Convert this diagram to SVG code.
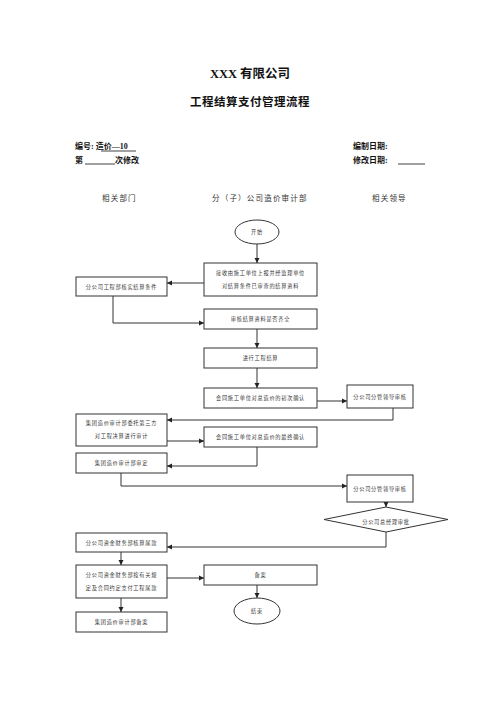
<svg xmlns="http://www.w3.org/2000/svg" width="500" height="707" viewBox="0 0 500 707">
<defs>
<marker id="ah" markerWidth="6" markerHeight="6" refX="5" refY="3" orient="auto" markerUnits="userSpaceOnUse">
<path d="M0,0.5 L5,3 L0,5.5 Z" fill="#222"/>
</marker>
<style>
.hd{font-family:"Liberation Serif","Noto Sans CJK SC",serif;font-weight:bold;fill:#111}
.col{font-family:"Noto Sans CJK SC","Liberation Sans",sans-serif;font-size:7.5px;fill:#333;letter-spacing:1.2px}
.bx{fill:#fff;stroke:#333;stroke-width:1}
.t{font-family:"Noto Sans CJK SC","Liberation Sans",sans-serif;font-size:5.2px;fill:#333;letter-spacing:0.75px;text-anchor:middle}
.ln{fill:none;stroke:#333;stroke-width:1;marker-end:url(#ah)}
.ul{stroke:#111;stroke-width:0.8}
</style>
</defs>
<rect width="500" height="707" fill="#fff"/>

<g id="header">
<text class="hd" x="250" y="78" font-size="12.5" text-anchor="middle">XXX 有限公司</text>
<text class="hd" x="250" y="106" font-size="11.5" text-anchor="middle" letter-spacing="0.5">工程结算支付管理流程</text>
<text class="hd" x="75" y="149" font-size="8">编号: 造价—10</text>
<line class="ul" x1="101" y1="151" x2="136" y2="151"/>
<text class="hd" x="75" y="163" font-size="8">第</text>
<line class="ul" x1="85" y1="164" x2="115" y2="164"/>
<text class="hd" x="115" y="163" font-size="8">次修改</text>
<text class="hd" x="353" y="149" font-size="8">编制日期:</text>
<text class="hd" x="353" y="163" font-size="8">修改日期:</text>
<line class="ul" x1="398" y1="164" x2="425" y2="164"/>
</g>

<g id="columns">
<text class="col" x="102" y="201">相关部门</text>
<text class="col" x="212" y="201">分（子）公司造价审计部</text>
<text class="col" x="372" y="201">相关领导</text>
</g>

<g id="connectors">
<path class="ln" d="M257,244 V263"/>
<path class="ln" d="M204,283 H167"/>
<path class="ln" d="M113,296 V323 H204"/>
<path class="ln" d="M257,329 V348"/>
<path class="ln" d="M257,368 V388"/>
<path class="ln" d="M317,401 H347"/>
<path class="ln" d="M393,408 V420 H167"/>
<path class="ln" d="M167,441 H204"/>
<path class="ln" d="M257,447 V466 H167"/>
<path class="ln" d="M121,473 V486 H347"/>
<path class="ln" d="M386,502 V507"/>
<path class="ln" d="M386,532 V547 H167"/>
<path class="ln" d="M121,552 V565"/>
<path class="ln" d="M167,578 H204"/>
<path class="ln" d="M257,585 V598"/>
<path class="ln" d="M121,598 V612"/>
</g>

<g id="start">
<ellipse class="bx" cx="257" cy="232" rx="22" ry="12"/>
<text class="t" x="257" y="234">开始</text>
</g>
<g id="n1">
<rect class="bx" x="204" y="263" width="113" height="33"/>
<text class="t" x="260.5" y="275">接收由施工单位上报并经监理单位</text>
<text class="t" x="260.5" y="288">对结算条件已审查的结算资料</text>
</g>
<g id="n2">
<rect class="bx" x="76" y="277" width="91" height="19"/>
<text class="t" x="121.5" y="288.5">分公司工程部核实结算条件</text>
</g>
<g id="n3">
<rect class="bx" x="204" y="309" width="113" height="20"/>
<text class="t" x="260.5" y="321">审核结算资料是否齐全</text>
</g>
<g id="n4">
<rect class="bx" x="204" y="348" width="113" height="20"/>
<text class="t" x="260.5" y="360">进行工程结算</text>
</g>
<g id="n5">
<rect class="bx" x="204" y="388" width="113" height="20"/>
<text class="t" x="260.5" y="400">会同施工单位对总造价的初次确认</text>
</g>
<g id="n6">
<rect class="bx" x="347" y="385" width="66" height="23"/>
<text class="t" x="380" y="398.5">分公司分管领导审核</text>
</g>
<g id="n7">
<rect class="bx" x="76" y="414" width="91" height="32"/>
<text class="t" x="121.5" y="425">集团造价审计部委托第三方</text>
<text class="t" x="121.5" y="438">对工程决算进行审计</text>
</g>
<g id="n8">
<rect class="bx" x="204" y="427" width="113" height="20"/>
<text class="t" x="260.5" y="439">会同施工单位对总造价的最终确认</text>
</g>
<g id="n9">
<rect class="bx" x="76" y="453" width="91" height="20"/>
<text class="t" x="121.5" y="465">集团造价审计部审定</text>
</g>
<g id="n10">
<rect class="bx" x="347" y="475" width="66" height="27"/>
<text class="t" x="380" y="490.5">分公司分管领导审核</text>
</g>
<g id="n11">
<polygon class="bx" points="386,507 448,519.5 386,532 324,519.5"/>
<text class="t" x="386" y="524" font-size="4.8" letter-spacing="0.6">分公司总经理审批</text>
</g>
<g id="n12">
<rect class="bx" x="76" y="533" width="91" height="19"/>
<text class="t" x="121.5" y="544.5">分公司资金财务部核算尾款</text>
</g>
<g id="n13">
<rect class="bx" x="76" y="565" width="91" height="33"/>
<text class="t" x="121.5" y="577">分公司资金财务部按有关规</text>
<text class="t" x="121.5" y="590">定及合同约定支付工程尾款</text>
</g>
<g id="n14">
<rect class="bx" x="204" y="565" width="113" height="20"/>
<text class="t" x="260.5" y="577">备案</text>
</g>
<g id="end">
<ellipse class="bx" cx="257" cy="611" rx="23" ry="13"/>
<text class="t" x="257" y="613">结束</text>
</g>
<g id="n15">
<rect class="bx" x="76" y="612" width="91" height="20"/>
<text class="t" x="121.5" y="624">集团造价审计部备案</text>
</g>
</svg>
